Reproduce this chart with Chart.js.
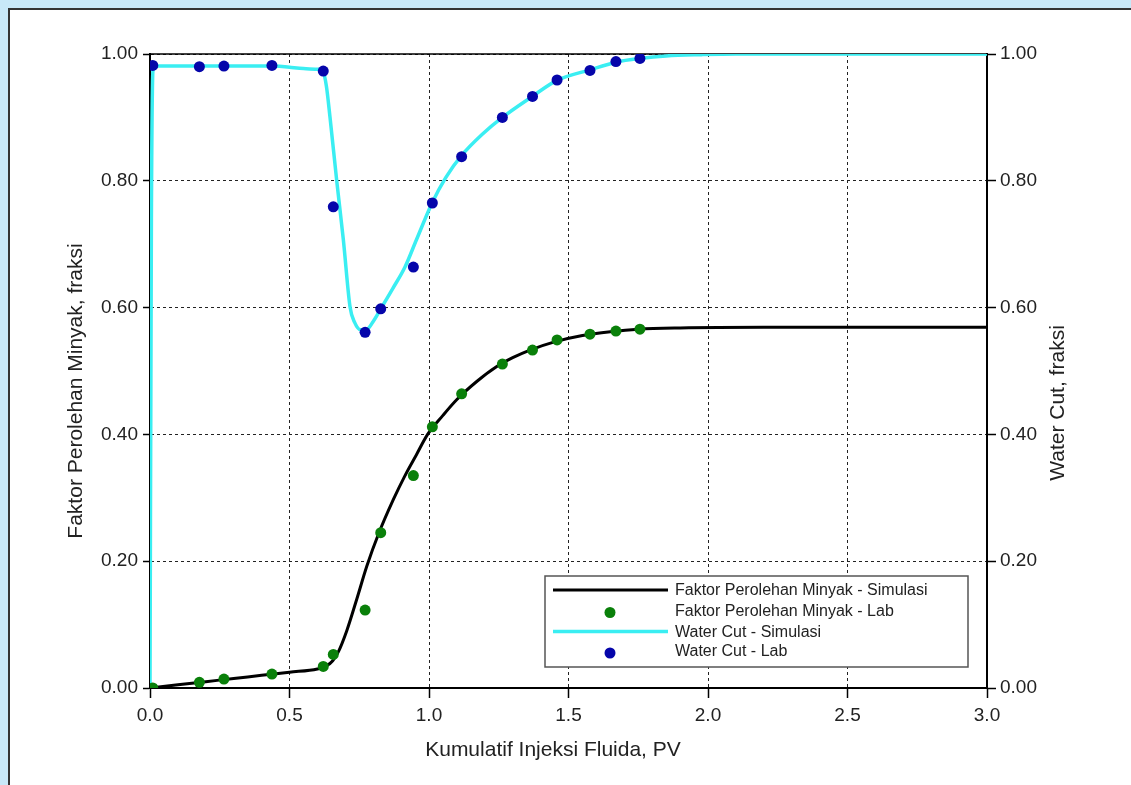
<!DOCTYPE html>
<html lang="id">
<head>
<meta charset="UTF-8">
<title>Faktor Perolehan Minyak dan Water Cut</title>
<style>
    html, body {
        margin: 0;
        padding: 0;
    }
    body {
        background-color: #c8e8f8;
        width: 1131px;
        height: 785px;
        overflow: hidden;
        position: relative;
    }
    .panel {
        position: absolute;
        left: 8px;
        top: 8px;
        width: 1150px;
        height: 800px;
        background-color: #fff;
        border: 2px solid #333;
    }
    #chart {
        position: absolute;
        left: 0;
        top: 0;
    }
</style>
</head>
<body>
<div class="panel"></div>
<canvas id="chart" width="1131" height="785"></canvas>

<script src="https://cdn.jsdelivr.net/npm/chart.js"></script>
<script>
// lab measurements (same injection points for both series)
const labX   = [0.01, 0.177, 0.265, 0.437, 0.621, 0.657, 0.771, 0.827, 0.944, 1.012, 1.117, 1.263, 1.371, 1.459, 1.577, 1.670, 1.756];
const labOil = [0.000, 0.009, 0.014, 0.022, 0.034, 0.053, 0.123, 0.245, 0.335, 0.412, 0.464, 0.511, 0.533, 0.549, 0.558, 0.563, 0.566];
const labWc  = [0.982, 0.980, 0.981, 0.982, 0.973, 0.759, 0.561, 0.598, 0.664, 0.765, 0.838, 0.900, 0.933, 0.959, 0.974, 0.988, 0.993];

// simulation curves
const simOilX = [0, 0.1, 0.2, 0.3, 0.4, 0.5, 0.6, 0.633, 0.655, 0.675, 0.705, 0.741, 0.777, 0.82, 0.872, 0.914, 0.955, 0.995, 1.05, 1.1, 1.17, 1.243, 1.3, 1.362, 1.45, 1.55, 1.65, 1.75, 1.9, 2.2, 3.0];
const simOilY = [0, 0.005, 0.010, 0.015, 0.020, 0.025, 0.030, 0.035, 0.043, 0.057, 0.090, 0.140, 0.192, 0.244, 0.297, 0.335, 0.368, 0.400, 0.430, 0.455, 0.483, 0.507, 0.521, 0.533, 0.546, 0.556, 0.562, 0.566, 0.568, 0.569, 0.569];

const simWcX = [0, 0.005, 0.012, 0.1, 0.2, 0.3, 0.45, 0.5, 0.55, 0.6, 0.62, 0.632, 0.645, 0.669, 0.693, 0.717, 0.733, 0.755, 0.775, 0.80, 0.827, 0.87, 0.914, 0.955, 1.011, 1.06, 1.117, 1.19, 1.263, 1.37, 1.457, 1.577, 1.67, 1.756, 1.85, 1.977, 2.1, 3.0];
const simWcY = [0, 0.74, 0.981, 0.981, 0.981, 0.981, 0.981, 0.979, 0.977, 0.976, 0.972, 0.950, 0.901, 0.801, 0.707, 0.601, 0.577, 0.565, 0.565, 0.578, 0.598, 0.630, 0.664, 0.707, 0.765, 0.805, 0.840, 0.873, 0.900, 0.933, 0.958, 0.975, 0.987, 0.993, 0.997, 0.999, 1.0, 1.0];

const seriesNames = [
    'Faktor Perolehan Minyak - Simulasi',
    'Faktor Perolehan Minyak - Lab',
    'Water Cut - Simulasi',
    'Water Cut - Lab'
];
const xTitle = 'Kumulatif Injeksi Fluida, PV';
const yTitle = 'Faktor Perolehan Minyak, fraksi';
const y1Title = 'Water Cut, fraksi';

const FONT = '"Liberation Sans", Arial, sans-serif';

function pairs(xs, ys) {
    return xs.map((x, i) => ({x: x, y: ys[i]}));
}

// titles, top frame line and the boxed legend
const decorations = {
    id: 'decorations',
    beforeDatasetsDraw(chart) {
        const {ctx, chartArea} = chart;
        ctx.save();
        ctx.strokeStyle = '#000';
        ctx.lineWidth = 1.5;
        ctx.beginPath();
        ctx.moveTo(chartArea.left, chartArea.top);
        ctx.lineTo(chartArea.right, chartArea.top);
        ctx.stroke();
        ctx.restore();
    },
    afterDraw(chart) {
        const ctx = chart.ctx;
        ctx.save();
        ctx.fillStyle = '#222';
        ctx.font = '21px ' + FONT;
        ctx.textAlign = 'center';
        ctx.textBaseline = 'alphabetic';
        ctx.fillText(xTitle, 553, 756);

        ctx.save();
        ctx.translate(82, 391);
        ctx.rotate(-Math.PI / 2);
        ctx.fillText(yTitle, 0, 0);
        ctx.restore();

        ctx.save();
        ctx.translate(1064, 403);
        ctx.rotate(-Math.PI / 2);
        ctx.fillText(y1Title, 0, 0);
        ctx.restore();

        // legend
        ctx.fillStyle = '#fff';
        ctx.fillRect(545, 576, 423, 91);
        ctx.strokeStyle = '#555';
        ctx.lineWidth = 1.5;
        ctx.strokeRect(545, 576, 423, 91);

        const rows = [590, 611.5, 631.5, 652];
        ctx.font = '16px ' + FONT;
        ctx.textAlign = 'left';
        ctx.textBaseline = 'middle';
        chart.data.datasets.forEach((ds, i) => {
            const y = rows[i];
            if (ds.showLine) {
                ctx.strokeStyle = ds.borderColor;
                ctx.lineWidth = ds.borderWidth;
                ctx.beginPath();
                ctx.moveTo(553, y);
                ctx.lineTo(668, y);
                ctx.stroke();
            } else {
                ctx.fillStyle = ds.backgroundColor;
                ctx.beginPath();
                ctx.arc(610, y + 1, ds.pointRadius, 0, Math.PI * 2);
                ctx.fill();
            }
            ctx.fillStyle = '#222';
            ctx.fillText(ds.label, 675, rows[i] + (i % 2 ? 0 : 1));
        });
        ctx.restore();
    }
};

new Chart(document.getElementById('chart'), {
    type: 'scatter',
    data: {
        datasets: [{
            label: seriesNames[0],
            data: pairs(simOilX, simOilY),
            showLine: true,
            borderColor: '#000',
            borderWidth: 3,
            pointRadius: 0,
            cubicInterpolationMode: 'monotone',
            yAxisID: 'y',
            order: 1
        }, {
            label: seriesNames[1],
            data: pairs(labX, labOil),
            showLine: false,
            backgroundColor: '#0a800a',
            borderWidth: 0,
            pointRadius: 5.5,
            yAxisID: 'y',
            order: 0
        }, {
            label: seriesNames[2],
            data: pairs(simWcX, simWcY),
            showLine: true,
            borderColor: '#3aeef2',
            borderWidth: 3.5,
            pointRadius: 0,
            cubicInterpolationMode: 'monotone',
            yAxisID: 'y1',
            order: 1
        }, {
            label: seriesNames[3],
            data: pairs(labX, labWc),
            showLine: false,
            backgroundColor: '#0505aa',
            borderWidth: 0,
            pointRadius: 5.5,
            yAxisID: 'y1',
            order: 0
        }]
    },
    options: {
        responsive: false,
        animation: false,
        events: [],
        layout: {padding: {top: 54, left: 0, right: 0, bottom: 0}},
        plugins: {
            legend: {display: false},
            tooltip: {enabled: false}
        },
        scales: {
            x: {
                type: 'linear',
                min: 0,
                max: 3,
                afterFit: s => { s.height = 97; },
                ticks: {
                    stepSize: 0.5,
                    padding: 6,
                    color: '#222',
                    font: {family: FONT, size: 19},
                    callback: v => v.toFixed(1)
                },
                grid: {
                    color: '#222',
                    lineWidth: 1,
                    tickLength: 10,
                    tickColor: '#000',
                    tickWidth: 1.5
                },
                border: {color: '#000', width: 2, dash: [3, 3]}
            },
            y: {
                position: 'left',
                min: 0,
                max: 1,
                afterFit: s => { s.width = 150; },
                ticks: {
                    stepSize: 0.2,
                    padding: 5,
                    color: '#222',
                    font: {family: FONT, size: 19},
                    callback: v => v.toFixed(2)
                },
                grid: {
                    color: '#222',
                    lineWidth: 1,
                    tickLength: 7,
                    tickColor: '#000',
                    tickWidth: 1.5
                },
                border: {color: '#000', width: 2, dash: [3, 3]}
            },
            y1: {
                position: 'right',
                min: 0,
                max: 1,
                afterFit: s => { s.width = 144; },
                ticks: {
                    stepSize: 0.2,
                    padding: 4,
                    color: '#222',
                    font: {family: FONT, size: 19},
                    callback: v => v.toFixed(2)
                },
                grid: {
                    drawOnChartArea: false,
                    tickLength: 9,
                    tickColor: '#000',
                    tickWidth: 1.5
                },
                border: {color: '#000', width: 2}
            }
        }
    },
    plugins: [decorations]
});
</script>
</body>
</html>
